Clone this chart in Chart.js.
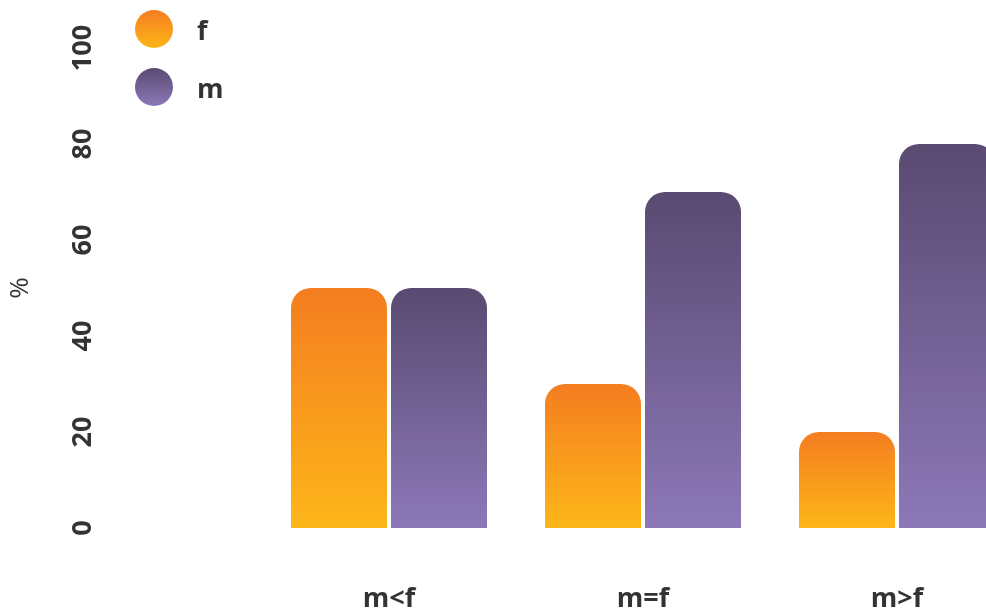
<!DOCTYPE html>
<html>
<head>
<meta charset="utf-8">
<script src="https://cdn.jsdelivr.net/npm/chart.js@4.4.1/dist/chart.umd.min.js"></script>
<style>
  html, body { margin: 0; padding: 0; background: #fff; overflow: hidden; }
  #wrap { position: relative; width: 986px; height: 610px; overflow: hidden; }
  #box { position: absolute; left: 0; top: 0; width: 1024px; height: 610px; }
  #legend { position: absolute; left: 135px; top: 10px; font-family: "Open Sans", sans-serif; font-weight: 700; font-size: 27px; color: #333; }
  .item { display: flex; align-items: center; height: 38px; margin-bottom: 20px; }
  .dot { width: 38px; height: 38px; border-radius: 50%; margin-right: 24px; }
</style>
</head>
<body>
<div id="wrap">
  <div id="box"><canvas id="grafico" width="1024" height="610"></canvas></div>
  <div id="legend"></div>
</div>
<script>
// dados
var categorias = ['m<f', 'm=f', 'm>f'];
var series = ['f', 'm'];
var valoresF = [50, 30, 20];
var valoresM = [50, 70, 80];
var ticksY = [0, 20, 40, 60, 80, 100];

var cores = {
  f: ['#f47d20', '#fdb619'],
  m: ['#594a71', '#8c78b8']
};

// legenda em html
var leg = document.getElementById('legend');
series.forEach(function(s) {
  var it = document.createElement('div');
  it.className = 'item';
  var d = document.createElement('div');
  d.className = 'dot';
  d.style.background = 'linear-gradient(to bottom, ' + cores[s][0] + ', ' + cores[s][1] + ')';
  var t = document.createElement('span');
  t.textContent = s;
  it.appendChild(d);
  it.appendChild(t);
  leg.appendChild(it);
});

function gradiente(serie) {
  return function(ctx) {
    var chart = ctx.chart;
    if (!chart.chartArea || ctx.type !== 'data') return cores[serie][0];
    var y = chart.scales.y;
    var topo = y.getPixelForValue(ctx.parsed.y);
    var base = y.getPixelForValue(0);
    var g = chart.ctx.createLinearGradient(0, topo, 0, base);
    g.addColorStop(0, cores[serie][0]);
    g.addColorStop(1, cores[serie][1]);
    return g;
  };
}

var fonte = { family: '"Open Sans", sans-serif', size: 27, weight: 'bold' };

new Chart(document.getElementById('grafico').getContext('2d'), {
  type: 'bar',
  data: {
    labels: categorias,
    datasets: [
      { label: series[0], data: valoresF, backgroundColor: gradiente('f') },
      { label: series[1], data: valoresM, backgroundColor: gradiente('m') }
    ]
  },
  options: {
    responsive: false,
    maintainAspectRatio: false,
    animation: false,
    layout: { padding: { top: 48, right: 0, bottom: 0, left: 0 } },
    datasets: {
      bar: {
        categoryPercentage: 200 / 254,
        barPercentage: 0.96,
        borderRadius: 20,
        borderSkipped: 'bottom'
      }
    },
    plugins: {
      legend: { display: false },
      tooltip: { enabled: false }
    },
    scales: {
      x: {
        grid: { display: false, drawTicks: false },
        border: { display: false },
        ticks: { font: fonte, color: '#333', padding: 55 },
        afterFit: function(s) { s.height = 82; }
      },
      y: {
        position: 'left',
        weight: 10,
        min: 0,
        max: 100,
        afterBuildTicks: function(s) { s.ticks = ticksY.map(function(v) { return { value: v }; }); },
        grid: { display: false, drawTicks: false },
        border: { display: false },
        ticks: { font: fonte, color: '#333', padding: 6, minRotation: 90, maxRotation: 90, crossAlign: 'center' },
        title: { display: true, text: '%', color: '#333', font: { family: '"Open Sans", sans-serif', size: 26 }, padding: { top: 5, bottom: 4 } },
        afterFit: function(s) { s.width = 112; }
      },
      gap: {
        type: 'linear',
        position: 'left',
        weight: 0,
        grid: { display: false, drawTicks: false },
        border: { display: false },
        ticks: { display: false },
        afterFit: function(s) { s.width = 150; }
      }
    }
  }
});
</script>
</body>
</html>
